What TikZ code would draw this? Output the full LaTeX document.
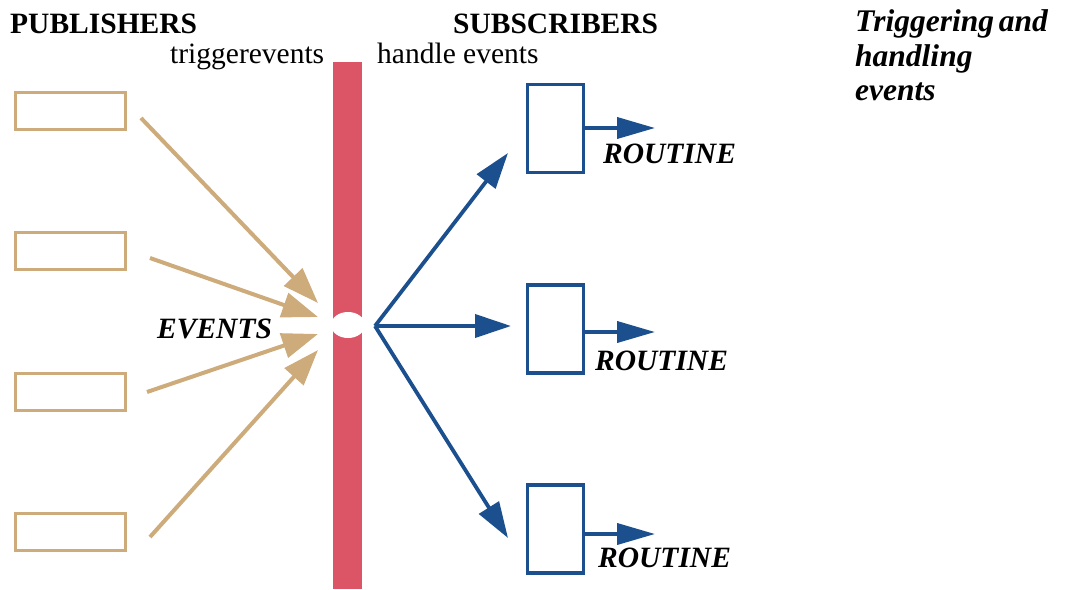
\documentclass[tikz,border=0pt]{standalone}
\usepackage{fontspec}
\setmainfont{Liberation Serif}
\usetikzlibrary{arrows.meta}
\definecolor{pubtan}{HTML}{CDAB7A}
\definecolor{busred}{HTML}{DB5566}
\definecolor{subblue}{HTML}{1B4F8E}
\tikzset{
  pubbox/.style={draw=pubtan, line width=3.2pt, minimum width=110pt, minimum height=37pt, inner sep=0pt},
  subbox/.style={draw=subblue, line width=3.2pt, minimum width=56pt, minimum height=88pt, inner sep=0pt},
  pubarrow/.style={draw=pubtan, line width=4pt, -{Triangle[length=36pt, width=25pt]}},
  subarrow/.style={draw=subblue, line width=3.8pt, -{Triangle[length=36pt, width=23pt]}},
  outarrow/.style={draw=subblue, line width=3.8pt, -{Triangle[length=38pt, width=21pt]}},
  lbl/.style={inner sep=0pt, anchor=base west, font=\fontsize{29.5}{34}\selectfont},
  head/.style={lbl, font=\fontsize{29.5}{34}\selectfont\bfseries},
  tag/.style={lbl, font=\fontsize{29.5}{34}\selectfont\bfseries\itshape},
  title/.style={lbl, font=\fontsize{31.5}{34}\selectfont\bfseries\itshape},
}
\begin{document}
\begin{tikzpicture}[x=1pt, y=-1pt]
  \useasboundingbox (0,0) rectangle (1070,589);

  % event bus with its opening
  \fill[busred] (333,62) rectangle (362,589);
  \fill[white] (348,325) ellipse [x radius=17, y radius=13];

  % headings
  \node[head] (pubhead) at (10,33) {PUBLISHERS};
  \node[head] (subhead) at (453,33) {SUBSCRIBERS};
  \node[lbl] (trig) at (170,63) {triggerevents};
  \node[lbl] (hand) at (377,63) {handle events};
  \node[title] (t1) at (855,31) {Triggering\hspace{-0.1em} and};
  \node[title] (t2) at (855,66) {handling};
  \node[title] (t3) at (855,100) {events};

  % publishers
  \node[pubbox] (p1) at (70.5,111) {};
  \node[pubbox] (p2) at (70.5,251) {};
  \node[pubbox] (p3) at (70.5,392) {};
  \node[pubbox] (p4) at (70.5,532) {};

  \coordinate (s1) at (141,118);
  \coordinate (s2) at (150,258);
  \coordinate (s3) at (147,392);
  \coordinate (s4) at (150,537);
  \coordinate (e1) at (318,303);
  \coordinate (e2) at (318,317);
  \coordinate (e3) at (318,334);
  \coordinate (e4) at (318,350);
  \draw[pubarrow] (s1) -- (e1);
  \draw[pubarrow] (s2) -- (e2);
  \draw[pubarrow] (s3) -- (e3);
  \draw[pubarrow] (s4) -- (e4);

  \node[tag] (events) at (157,338) {EVENTS};

  % subscribers
  \node[subbox] (b1) at (555.5,128.5) {};
  \node[subbox] (b2) at (555.5,329) {};
  \node[subbox] (b3) at (555.5,529) {};

  \coordinate (hub) at (375,326);
  \coordinate (h1) at (508,153);
  \coordinate (h2) at (511,326);
  \coordinate (h3) at (508,538);
  \draw[subarrow] (hub) -- (h1);
  \draw[subarrow] (hub) -- (h2);
  \draw[subarrow] (hub) -- (h3);

  \coordinate (r1) at (655,128);
  \coordinate (r2) at (655,332);
  \coordinate (r3) at (655,534);
  \draw[outarrow] (b1.east |- r1) -- (r1);
  \draw[outarrow] (b2.east |- r2) -- (r2);
  \draw[outarrow] (b3.east |- r3) -- (r3);

  \node[tag] (rt1) at (603,163) {ROUTINE};
  \node[tag] (rt2) at (595,370) {ROUTINE};
  \node[tag] (rt3) at (598,567) {ROUTINE};
\end{tikzpicture}
\end{document}
